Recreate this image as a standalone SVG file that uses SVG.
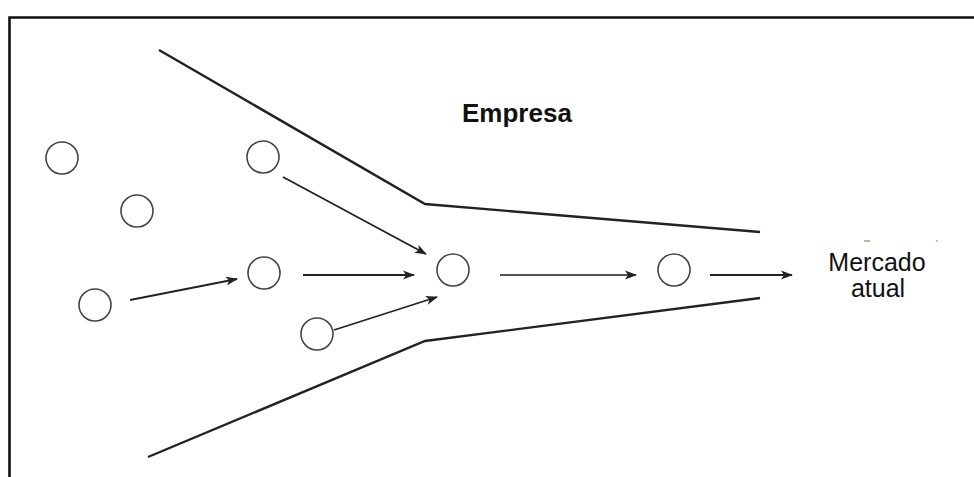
<svg xmlns="http://www.w3.org/2000/svg" width="974" height="477" viewBox="0 0 974 477">
<defs>
<marker id="ah" viewBox="0 0 12 10" refX="11" refY="5" markerWidth="12" markerHeight="10" markerUnits="userSpaceOnUse" orient="auto">
<path d="M0,0.5 L12,5 L0,9.5 L3,5 Z" fill="#222"/>
</marker>
<style>
.n{fill:#fff;stroke:#444;stroke-width:1.6}
.c{stroke:#222;stroke-width:1.8;fill:none;marker-end:url(#ah)}
.f{stroke:#222;stroke-width:2.4;fill:none}
.t{font-family:"Liberation Sans",Arial,sans-serif;fill:#111}
</style>
</defs>
<rect width="974" height="477" fill="#fff"/>
<path d="M9.5,477 V17.5 H974" fill="none" stroke="#111" stroke-width="2.6"/>
<g id="funnel">
<polyline class="f" points="159,50 425,204 760,232"/>
<polyline class="f" points="148,457 425,341 760,298"/>
</g>
<g id="n1"><circle class="n" cx="62" cy="158" r="16"/></g>
<g id="n2"><circle class="n" cx="137" cy="211" r="16"/></g>
<g id="n3"><circle class="n" cx="263" cy="157" r="16"/></g>
<g id="n4"><circle class="n" cx="264" cy="273" r="16"/></g>
<g id="n5"><circle class="n" cx="95" cy="305" r="16"/></g>
<g id="n6"><circle class="n" cx="317" cy="334" r="16"/></g>
<g id="n7"><circle class="n" cx="453" cy="270" r="16"/></g>
<g id="n8"><circle class="n" cx="674" cy="270" r="16"/></g>
<g id="connectors">
<line class="c" x1="130" y1="300" x2="237" y2="279"/>
<line class="c" x1="303" y1="275" x2="414" y2="275"/>
<line class="c" x1="283" y1="177" x2="426" y2="254"/>
<line class="c" x1="334" y1="330" x2="437" y2="297"/>
<line class="c" x1="500" y1="275" x2="636" y2="275" style="stroke:#555"/>
<line class="c" x1="710" y1="275" x2="792" y2="275"/>
</g>
<g id="label-empresa"><text class="t" x="462" y="122" font-size="26" font-weight="bold">Empresa</text></g>
<g id="label-mercado">
<text class="t" x="877" y="271" font-size="25" text-anchor="middle">Mercado</text>
<text class="t" x="878" y="297" font-size="25" text-anchor="middle">atual</text>
</g>
<line x1="864" y1="241" x2="870" y2="241" stroke="#b08050" stroke-width="1.2"/>
<line x1="936" y1="241" x2="938" y2="241" stroke="#6090d0" stroke-width="1.2"/>
</svg>
